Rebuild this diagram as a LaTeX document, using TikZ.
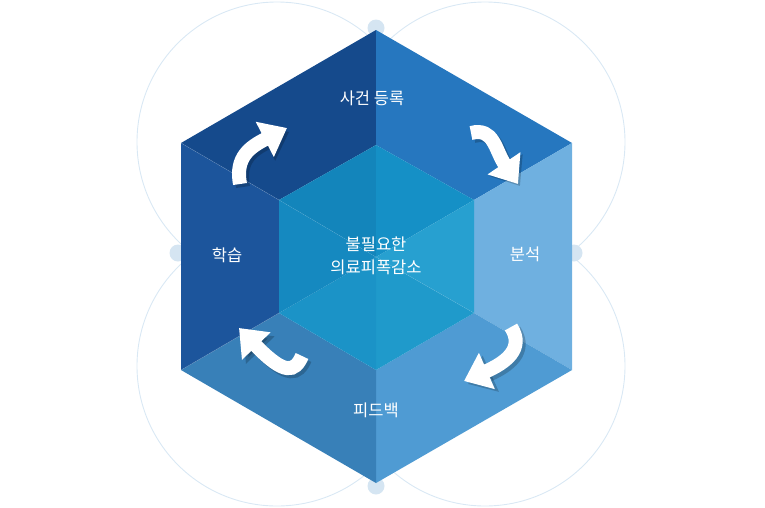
\documentclass[tikz,border=0pt]{standalone}
\usepackage{fontspec}
\newfontfamily\kr{Noto Sans CJK KR}
\usetikzlibrary{arrows.meta}
\definecolor{fTL}{HTML}{154A8C}
\definecolor{fTR}{HTML}{2677BF}
\definecolor{fR}{HTML}{6FB0E0}
\definecolor{fBR}{HTML}{4F9BD3}
\definecolor{fBL}{HTML}{3880B8}
\definecolor{fL}{HTML}{1C559C}
\definecolor{cTL}{HTML}{1385BB}
\definecolor{cTR}{HTML}{1590C6}
\definecolor{cR}{HTML}{27A0D0}
\definecolor{cBR}{HTML}{1F9ACB}
\definecolor{cBL}{HTML}{1B93C7}
\definecolor{cL}{HTML}{1589C0}
\definecolor{ring}{HTML}{D9E8F4}
\definecolor{dot}{HTML}{D5E5F2}
\begin{document}
\begin{tikzpicture}[x=1pt,y=-1pt,
  ringline/.style={draw=ring, line width=0.9pt},
  dotfill/.style={fill=dot},
  lbl/.style={text=white, font=\kr\fontsize{16.5}{23}\selectfont, align=center, inner sep=0pt},
  bigarrow/.style={draw=white, line width=14pt, line cap=butt, -{Triangle[length=25pt,width=38pt]}},
  arrowshadow/.style={draw=black, opacity=0.2, line width=14pt, line cap=butt, -{Triangle[length=25pt,width=38pt]}}
]
\useasboundingbox (0,0) rectangle (765,507);
% background rings and dots
\draw[ringline] (277,142) circle (140);
\draw[ringline] (485,142) circle (140);
\draw[ringline] (277,366) circle (140);
\draw[ringline] (485,366) circle (140);
\fill[dotfill] (376,28) circle (8.5);
\fill[dotfill] (376,486) circle (8.5);
\fill[dotfill] (178,253) circle (8.5);
\fill[dotfill] (574,253) circle (8.5);
% hexagon coordinates
\coordinate (T) at (376,30);
\coordinate (UR) at (572,143);
\coordinate (LR) at (572,370);
\coordinate (B) at (376,483);
\coordinate (LL) at (181,370);
\coordinate (UL) at (181,143);
\coordinate (iT) at (376,145);
\coordinate (iUR) at (474,200);
\coordinate (iLR) at (474,313);
\coordinate (iB) at (376,370);
\coordinate (iLL) at (279,313);
\coordinate (iUL) at (279,200);
\coordinate (C) at (376,257);
% outer faces
\fill[fTL] (UL) -- (T) -- (iT) -- (iUL) -- cycle;
\fill[fTR] (T) -- (UR) -- (iUR) -- (iT) -- cycle;
\fill[fR] (UR) -- (LR) -- (iLR) -- (iUR) -- cycle;
\fill[fBR] (LR) -- (B) -- (iB) -- (iLR) -- cycle;
\fill[fBL] (B) -- (LL) -- (iLL) -- (iB) -- cycle;
\fill[fL] (LL) -- (UL) -- (iUL) -- (iLL) -- cycle;
% inner hexagon
\fill[cTL] (iT) -- (iUL) -- (C) -- cycle;
\fill[cTR] (iT) -- (iUR) -- (C) -- cycle;
\fill[cR] (iUR) -- (iLR) -- (C) -- cycle;
\fill[cBR] (iLR) -- (iB) -- (C) -- cycle;
\fill[cBL] (iB) -- (iLL) -- (C) -- cycle;
\fill[cL] (iLL) -- (iUL) -- (C) -- cycle;
% faint edges
\draw[white, opacity=0.15, line width=0.6pt] (UL) -- (iUL);
\draw[white, opacity=0.08, line width=0.6pt] (iUL) -- (C) -- (iLR);
\draw[white, opacity=0.15, line width=0.6pt] (LL) -- (iLL);
% arrows: shadows
\draw[arrowshadow] (243,187) .. controls (238,160) and (252,150) .. (289,132);
\draw[arrowshadow] (474,136) .. controls (497,130) and (498,153) .. (520,186);
\draw[arrowshadow] (514,330) .. controls (528,352) and (508,366) .. (468,384);
\draw[arrowshadow] (305,359) .. controls (298,375) and (288,379) .. (243,332);
% arrows
\coordinate (a1s) at (240,184); \coordinate (a1e) at (287,128);
\coordinate (a2s) at (471,133); \coordinate (a2e) at (518,184);
\coordinate (a3s) at (511,327); \coordinate (a3e) at (464,381);
\coordinate (a4s) at (302,356); \coordinate (a4e) at (239,328);
\draw[bigarrow] (a1s) .. controls (235,157) and (250,147) .. (a1e);
\draw[bigarrow] (a2s) .. controls (494,127) and (495,150) .. (a2e);
\draw[bigarrow] (a3s) .. controls (525,349) and (505,363) .. (a3e);
\draw[bigarrow] (a4s) .. controls (295,372) and (285,376) .. (a4e);
% labels
\node[lbl] (reg) at (372,98) {사건 등록};
\node[lbl] (ana) at (525,254) {분석};
\node[lbl] (fb) at (376,410) {피드백};
\node[lbl] (learn) at (227,255) {학습};
\node[lbl] (core) at (376,256) {불필요한\\의료피폭감소};
\end{tikzpicture}
\end{document}
